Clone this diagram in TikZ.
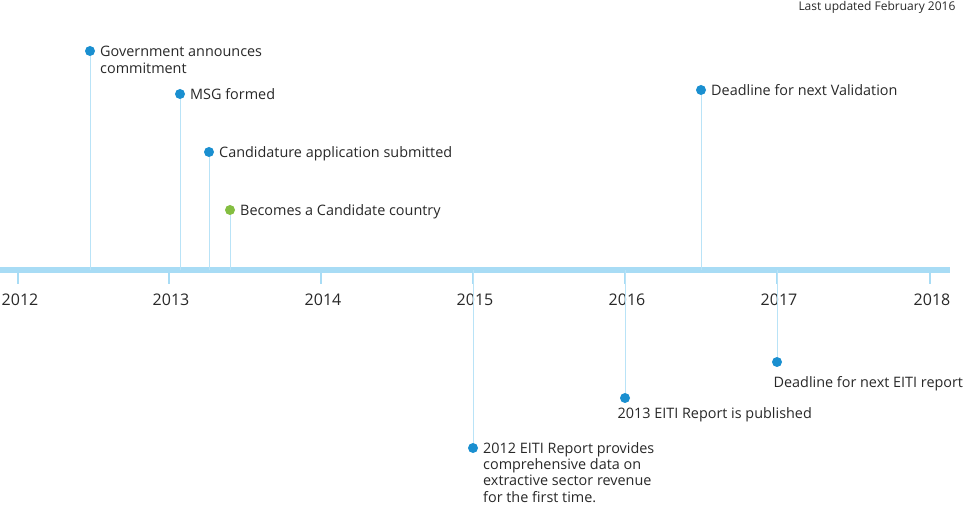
\documentclass[tikz,border=0pt]{standalone}
\usepackage{fontspec}
\setmainfont{Open Sans}
\usepackage{tikz}
\usetikzlibrary{positioning}
\definecolor{axisblue}{RGB}{168, 220, 245}
\definecolor{dotblue}{RGB}{26, 143, 208}
\definecolor{dotgreen}{RGB}{132, 190, 65}
\definecolor{txtgray}{RGB}{40, 40, 40}

\begin{document}
\begin{tikzpicture}[
  x=0.75pt, y=-0.75pt,
  stem/.style={axisblue!80, line width=0.5pt},
  dot/.style={circle, fill=dotblue, inner sep=0pt, minimum size=7.5pt},
  label/.style={font=\fontsize{10.8}{12.5}\selectfont, text=txtgray, align=left, inner sep=1pt},
]
  \useasboundingbox (0,0) rectangle (970,505);

  % Axis
  \coordinate (axl) at (0,270);
  \coordinate (axr) at (950,270);
  \draw[axisblue, line width=4.5pt] (axl) -- (axr);

  % Year ticks and labels
  \foreach \x/\yr in {18/2012, 169/2013, 321/2014, 473/2015, 625/2016, 777/2017, 930/2018} {
    \draw[axisblue, line width=1.5pt] (\x,270) -- (\x,284);
    \node[label, font=\fontsize{12}{14}\selectfont] (y\yr) at (\x+2,300) {\yr};
  }

  % Events above the axis
  \foreach \name/\x/\y/\col/\txt in {
      gov/90/51/dotblue/{Government announces\\commitment},
      msg/180/94/dotblue/{MSG formed},
      cand/209/152/dotblue/{Candidature application submitted},
      cdc/230/210/dotgreen/{Becomes a Candidate country},
      val/701/90/dotblue/{Deadline for next Validation}} {
    \coordinate (\name base) at (\x,270);
    \node[dot, fill=\col] (\name) at (\x,\y) {};
    \draw[stem] (\name) -- (\name base);
    \node[label, anchor=north west] at ([xshift=2.5pt,yshift=5pt]\name.east) {\txt};
  }

  % Events below the axis
  \coordinate (rep12base) at (473,270);
  \node[dot] (rep12) at (473,448) {};
  \draw[stem] (rep12base) -- (rep12);
  \node[label, font=\fontsize{10.8}{12.2}\selectfont, anchor=north west] at ([xshift=2.5pt,yshift=5.5pt]rep12.east)
    {2012 EITI Report provides\\comprehensive data on\\extractive sector revenue\\for the first time.};

  \coordinate (rep13base) at (625,270);
  \node[dot] (rep13) at (625,398) {};
  \draw[stem] (rep13base) -- (rep13);
  \node[label, anchor=north west] at (616,406) {2013 EITI Report is published};

  \coordinate (nextbase) at (777,270);
  \node[dot] (next) at (777,362) {};
  \draw[stem] (nextbase) -- (next);
  \node[label, anchor=north west] at (772,375) {Deadline for next EITI report};

  % Note
  \node[label, font=\fontsize{9}{11}\selectfont, anchor=north east] (note) at (957,0) {Last updated February 2016};
\end{tikzpicture}
\end{document}
